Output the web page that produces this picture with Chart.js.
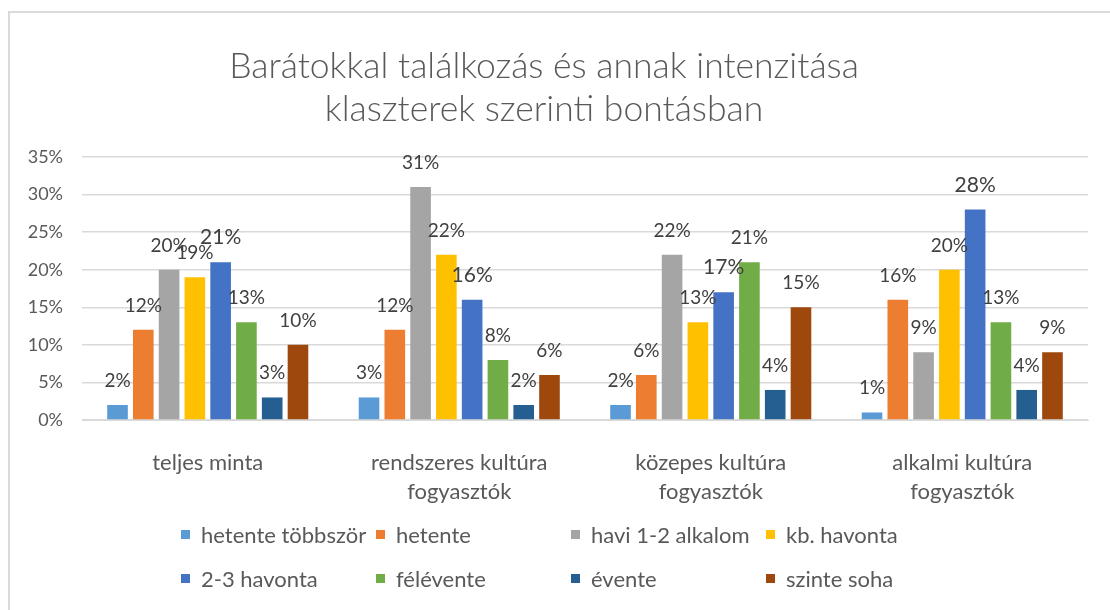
<!DOCTYPE html>
<html>
<head>
<meta charset="utf-8">
<script src="https://cdn.jsdelivr.net/npm/chart.js@4.4.1/dist/chart.umd.min.js"></script>
<style>
  html, body { margin: 0; padding: 0; background: #fff; }
  #wrap { position: relative; width: 1110px; height: 610px; overflow: hidden; }
  #frame { position: absolute; left: 8px; top: 11px; width: 1200px; height: 700px;
           border: 2px solid #d9d9d9; box-sizing: border-box; }
  #c { position: absolute; left: 0; top: 0; }
  #legend { position: absolute; left: 181px; top: 512px; display: grid;
            grid-template-columns: repeat(4, 195px); grid-auto-rows: 44px;
            font-family: Lato, sans-serif; font-size: 22px; color: #595959; }
  .item { display: flex; align-items: center; white-space: nowrap; }
  .box { width: 9px; height: 9px; margin-right: 11px; flex: none; }
</style>
</head>
<body>
<div id="wrap">
  <div id="frame"></div>
  <canvas id="c" width="1110" height="610"></canvas>
  <div id="legend"></div>
</div>
<script>
// Clusters (x categories)
const categories = [
  'teljes minta',
  ['rendszeres kultúra', 'fogyasztók'],
  ['közepes kultúra', 'fogyasztók'],
  ['alkalmi kultúra', 'fogyasztók']
];

// Share of respondents (%) per meeting frequency
const hetenteTobbszor = [2, 3, 2, 1];
const hetente         = [12, 12, 6, 16];
const havi12Alkalom   = [20, 31, 22, 9];
const kbHavonta       = [19, 22, 13, 20];
const havonta23       = [21, 16, 17, 28];
const felevente       = [13, 8, 21, 13];
const evente          = [3, 2, 4, 4];
const szinteSoha      = [10, 6, 15, 9];

const seriesNames = ['hetente többször', 'hetente', 'havi 1-2 alkalom', 'kb. havonta',
                     '2-3 havonta', 'félévente', 'évente', 'szinte soha'];
const seriesValues = [hetenteTobbszor, hetente, havi12Alkalom, kbHavonta,
                      havonta23, felevente, evente, szinteSoha];

// Y axis ticks (%)
const yTicks = [0, 5, 10, 15, 20, 25, 30, 35];

const palette = ['#5B9BD5', '#ED7D31', '#A5A5A5', '#FFC000',
                 '#4472C4', '#70AD47', '#255E91', '#9E480E'];

// Value labels above every bar
const valueLabels = {
  id: 'valueLabels',
  afterDatasetsDraw(chart, args, opts) {
    const ctx = chart.ctx;
    chart.data.datasets.forEach((ds, i) => {
      const meta = chart.getDatasetMeta(i);
      if (meta.hidden) return;
      const size = opts.sizes[i] || opts.size;
      ctx.save();
      ctx.font = size + 'px Lato, sans-serif';
      ctx.fillStyle = opts.color;
      ctx.textAlign = 'center';
      ctx.textBaseline = 'alphabetic';
      meta.data.forEach((bar, j) => {
        ctx.fillText(ds.data[j] + '%', bar.x, bar.y - opts.gap);
      });
      ctx.restore();
    });
  }
};

function draw() {
  const chart = new Chart(document.getElementById('c'), {
    type: 'bar',
    data: {
      labels: categories,
      datasets: seriesNames.map((name, i) => ({
        label: name,
        data: seriesValues[i],
        backgroundColor: palette[i],
        borderWidth: 0,
        categoryPercentage: 0.82,
        barPercentage: 0.8
      }))
    },
    options: {
      responsive: false,
      animation: false,
      layout: { padding: { left: 0, right: 22, top: 0, bottom: 100 } },
      plugins: {
        legend: { display: false },
        tooltip: { enabled: false },
        title: {
          display: true,
          text: ['Barátokkal találkozás és annak intenzitása', 'klaszterek szerinti bontásban'],
          color: '#595959',
          font: { family: 'Lato, sans-serif', size: 35.5, weight: 300, lineHeight: 43 / 35.5 },
          padding: { top: 45, bottom: 26 }
        },
        valueLabels: { size: 19, sizes: { 4: 21 }, color: '#404040', gap: 18 }
      },
      scales: {
        x: {
          grid: { display: false },
          border: { display: true, color: '#d9d9d9', width: 1 },
          ticks: {
            color: '#595959',
            padding: 20,
            maxRotation: 0,
            font: { family: 'Lato, sans-serif', size: 22, lineHeight: 29 / 22 }
          },
          afterFit(scale) { scale.height = 90; }
        },
        y: {
          min: 0,
          max: 35,
          afterBuildTicks(scale) { scale.ticks = yTicks.map(v => ({ value: v })); },
          grid: { color: '#d9d9d9', lineWidth: 1.5, drawTicks: false },
          border: { display: false },
          ticks: {
            color: '#595959',
            padding: 19,
            font: { family: 'Lato, sans-serif', size: 18 },
            callback: v => v + '%'
          },
          afterFit(scale) { scale.width = 82; }
        }
      }
    },
    plugins: [valueLabels]
  });

  // Legend laid out as a 4-column grid below the chart
  const legend = document.getElementById('legend');
  chart.options.plugins.legend.labels.generateLabels(chart).forEach(item => {
    const el = document.createElement('div');
    el.className = 'item';
    const box = document.createElement('span');
    box.className = 'box';
    box.style.background = item.fillStyle;
    const txt = document.createElement('span');
    txt.textContent = item.text;
    el.appendChild(box);
    el.appendChild(txt);
    legend.appendChild(el);
  });
}

Promise.all([
  document.fonts.load('22px Lato'),
  document.fonts.load('300 35.5px Lato')
]).then(draw, draw);
</script>
</body>
</html>
